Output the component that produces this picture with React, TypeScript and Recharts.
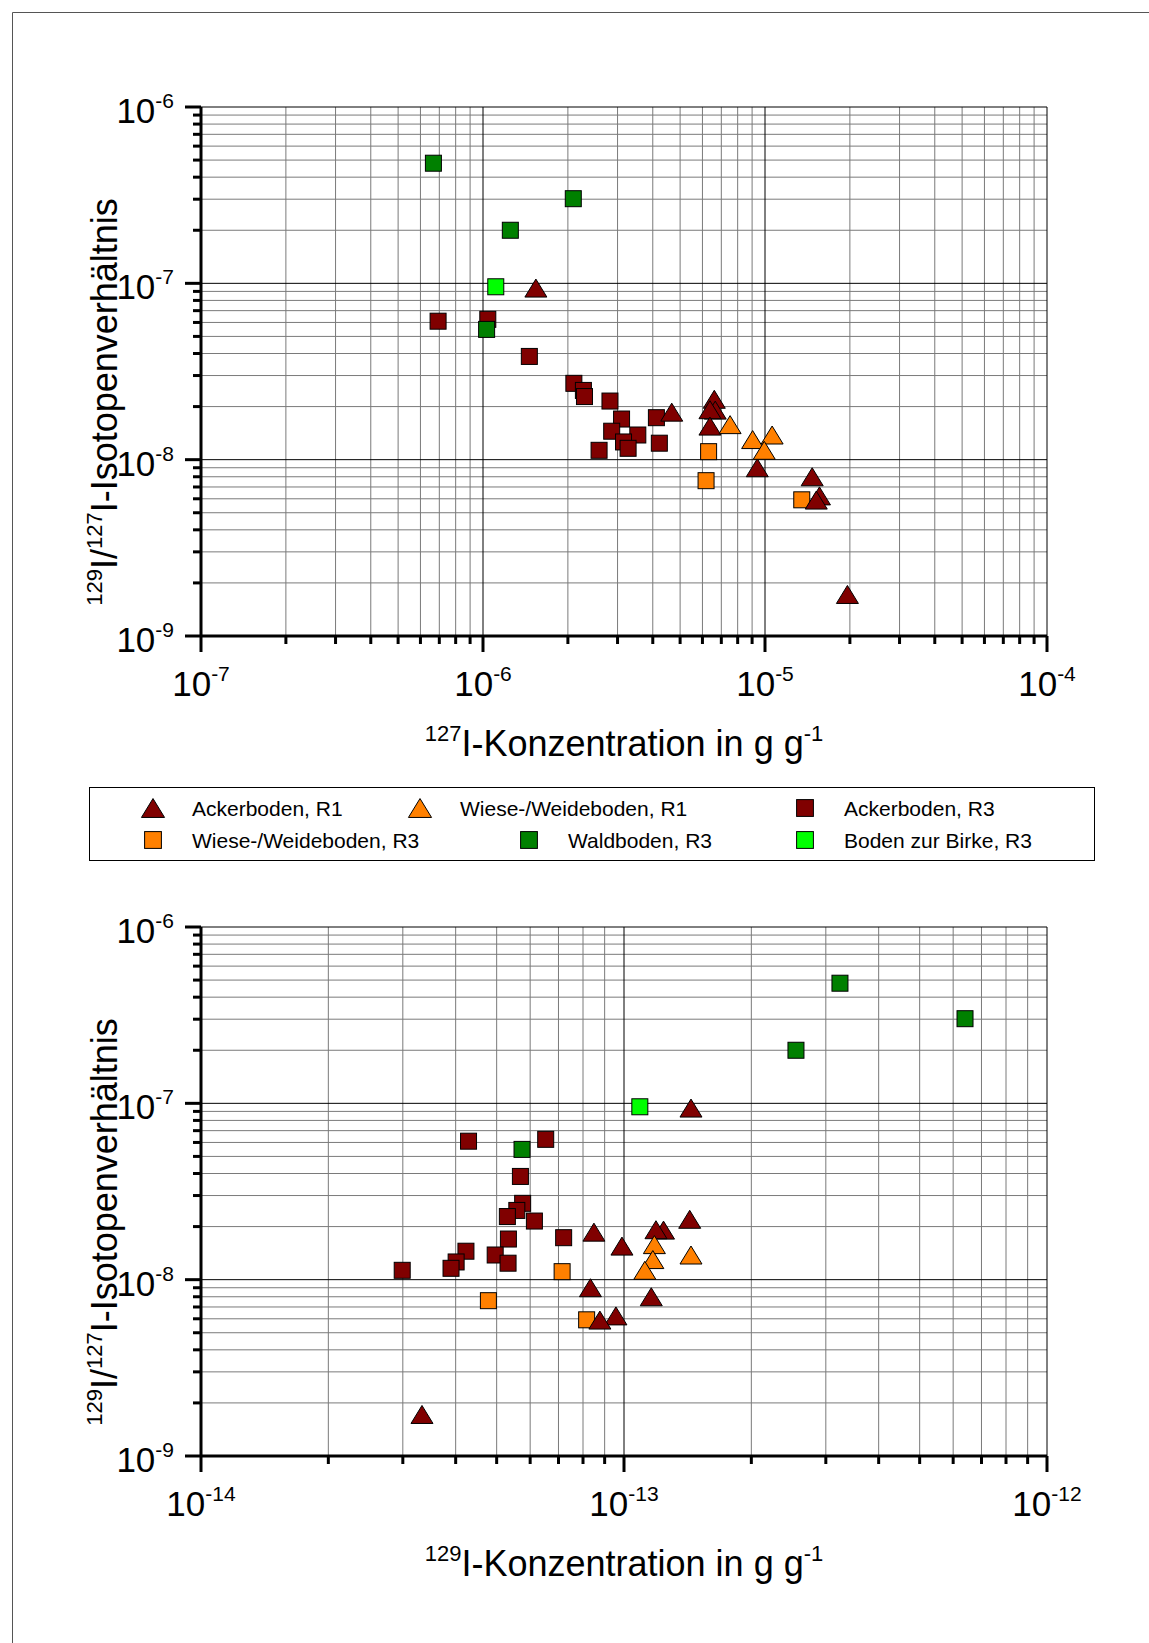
import React from 'react';
import { ScatterChart, Scatter, XAxis, YAxis, ReferenceLine } from 'recharts';

const FONT = '"Liberation Sans", Arial, sans-serif';

// decades shown on the log axes
const ratioDecades = [-9, -8, -7, -6];
const conc127Decades = [-7, -6, -5, -4];
const conc129Decades = [-14, -13, -12];

// per series: 129I/127I ratio, 127I concentration (g/g), 129I concentration (g/g)
const ackerR1Ratio = [9.4e-8, 1.86e-8, 2.2e-8, 1.91e-8, 1.92e-8, 1.55e-8, 9.0e-9, 8.0e-9, 6.23e-9, 5.9e-9, 1.72e-9];
const ackerR1Conc127 = [1.54e-6, 4.67e-6, 6.61e-6, 6.66e-6, 6.38e-6, 6.38e-6, 9.39e-6, 1.47e-5, 1.56e-5, 1.52e-5, 1.96e-5];
const ackerR1Conc129 = [1.44e-13, 8.49e-14, 1.43e-13, 1.24e-13, 1.19e-13, 9.89e-14, 8.33e-14, 1.16e-13, 9.57e-14, 8.77e-14, 3.33e-14];

const wieseR1Ratio = [1.58e-8, 1.3e-8, 1.38e-8, 1.13e-8];
const wieseR1Conc127 = [7.52e-6, 9.04e-6, 1.06e-5, 9.94e-6];
const wieseR1Conc129 = [1.18e-13, 1.17e-13, 1.44e-13, 1.12e-13];

const ackerR3Ratio = [6.1e-8, 6.25e-8, 3.85e-8, 2.71e-8, 2.47e-8, 2.28e-8, 2.15e-8, 1.7e-8, 1.45e-8, 1.38e-8, 1.26e-8, 1.16e-8, 1.13e-8, 1.73e-8, 1.24e-8];
const ackerR3Conc127 = [6.93e-7, 1.04e-6, 1.46e-6, 2.1e-6, 2.27e-6, 2.29e-6, 2.82e-6, 3.1e-6, 2.86e-6, 3.54e-6, 3.15e-6, 3.27e-6, 2.58e-6, 4.12e-6, 4.22e-6];
const ackerR3Conc129 = [4.29e-14, 6.53e-14, 5.69e-14, 5.76e-14, 5.58e-14, 5.3e-14, 6.14e-14, 5.33e-14, 4.23e-14, 4.96e-14, 4.01e-14, 3.9e-14, 2.99e-14, 7.2e-14, 5.32e-14];

const wieseR3Ratio = [1.11e-8, 7.6e-9, 5.92e-9];
const wieseR3Conc127 = [6.31e-6, 6.18e-6, 1.35e-5];
const wieseR3Conc129 = [7.14e-14, 4.78e-14, 8.16e-14];

const waldR3Ratio = [4.8e-7, 3.02e-7, 2.0e-7, 5.48e-8];
const waldR3Conc127 = [6.67e-7, 2.09e-6, 1.25e-6, 1.03e-6];
const waldR3Conc129 = [3.24e-13, 6.4e-13, 2.55e-13, 5.74e-14];

const birkeR3Ratio = [9.56e-8];
const birkeR3Conc127 = [1.11e-6];
const birkeR3Conc129 = [1.09e-13];

type Kind = 'tri' | 'sq';

// drawing order (back to front)
const series = [
  { name: 'Ackerboden, R3', kind: 'sq' as Kind, color: '#800000', ratio: ackerR3Ratio, c127: ackerR3Conc127, c129: ackerR3Conc129 },
  { name: 'Wiese-/Weideboden, R3', kind: 'sq' as Kind, color: '#ff8000', ratio: wieseR3Ratio, c127: wieseR3Conc127, c129: wieseR3Conc129 },
  { name: 'Ackerboden, R1', kind: 'tri' as Kind, color: '#800000', ratio: ackerR1Ratio, c127: ackerR1Conc127, c129: ackerR1Conc129 },
  { name: 'Wiese-/Weideboden, R1', kind: 'tri' as Kind, color: '#ff8000', ratio: wieseR1Ratio, c127: wieseR1Conc127, c129: wieseR1Conc129 },
  { name: 'Waldboden, R3', kind: 'sq' as Kind, color: '#008000', ratio: waldR3Ratio, c127: waldR3Conc127, c129: waldR3Conc129 },
  { name: 'Boden zur Birke, R3', kind: 'sq' as Kind, color: '#00ff00', ratio: birkeR3Ratio, c127: birkeR3Conc127, c129: birkeR3Conc129 },
];

const legendItems = [
  { name: 'Ackerboden, R1', kind: 'tri' as Kind, color: '#800000', mx: 153, tx: 192, row: 0 },
  { name: 'Wiese-/Weideboden, R1', kind: 'tri' as Kind, color: '#ff8000', mx: 420, tx: 460, row: 0 },
  { name: 'Ackerboden, R3', kind: 'sq' as Kind, color: '#800000', mx: 805, tx: 844, row: 0 },
  { name: 'Wiese-/Weideboden, R3', kind: 'sq' as Kind, color: '#ff8000', mx: 153, tx: 192, row: 1 },
  { name: 'Waldboden, R3', kind: 'sq' as Kind, color: '#008000', mx: 529, tx: 568, row: 1 },
  { name: 'Boden zur Birke, R3', kind: 'sq' as Kind, color: '#00ff00', mx: 805, tx: 844, row: 1 },
];

const logTicks = (decades: number[]) => {
  const out: number[] = [];
  decades.forEach((e, i) => {
    const steps = i === decades.length - 1 ? [1] : [1, 2, 3, 4, 5, 6, 7, 8, 9];
    steps.forEach((m) => out.push(m * Math.pow(10, e)));
  });
  return out;
};

const isMajor = (v: number) => {
  const e = Math.round(Math.log10(v));
  return Math.abs(v / Math.pow(10, e) - 1) < 1e-6;
};

function Marker({ cx, cy, kind, color, s = 1 }: any) {
  if (cx == null || cy == null) return null;
  if (kind === 'tri') {
    const w = 11 * s;
    const h = 9 * s;
    return (
      <polygon
        points={`${cx},${cy - h} ${cx + w},${cy + h} ${cx - w},${cy + h}`}
        fill={color}
        stroke="#000"
        strokeWidth={1}
      />
    );
  }
  const a = 8 * s;
  return <rect x={cx - a} y={cy - a} width={2 * a} height={2 * a} fill={color} stroke="#000" strokeWidth={1} />;
}

function XTick({ x, y, payload }: any) {
  const v = payload.value;
  const major = isMajor(v);
  const e = Math.round(Math.log10(v));
  return (
    <g>
      <line x1={x} y1={y} x2={x} y2={y + (major ? 16 : 8)} stroke="#000" strokeWidth={3} />
      {major && (
        <text x={x} y={y + 60} textAnchor="middle" fontSize={35} fontFamily={FONT} fill="#000">
          10
          <tspan dy={-15} fontSize={21}>
            {String(e)}
          </tspan>
        </text>
      )}
    </g>
  );
}

function YTick({ x, y, payload }: any) {
  const v = payload.value;
  const major = isMajor(v);
  const e = Math.round(Math.log10(v));
  return (
    <g>
      <line x1={x} y1={y} x2={x - (major ? 16 : 8)} y2={y} stroke="#000" strokeWidth={3} />
      {major && (
        <text x={x - 27} y={y + 16} textAnchor="end" fontSize={35} fontFamily={FONT} fill="#000">
          10
          <tspan dy={-15} fontSize={21}>
            {String(e)}
          </tspan>
        </text>
      )}
    </g>
  );
}

function LogScatter({ top, xDecades, xField }: { top: number; xDecades: number[]; xField: 'c127' | 'c129' }) {
  const xTicks = logTicks(xDecades);
  const yTicks = logTicks(ratioDecades);
  const xDomain = [xTicks[0], xTicks[xTicks.length - 1]];
  const yDomain = [yTicks[0], yTicks[yTicks.length - 1]];
  return (
    <div style={{ position: 'absolute', left: 0, top }}>
      <ScatterChart width={1149} height={720} margin={{ top: 107, right: 102, bottom: 4, left: 121 }}>
        <XAxis
          type="number"
          dataKey="x"
          scale="log"
          domain={xDomain}
          ticks={xTicks}
          interval={0}
          allowDataOverflow
          height={80}
          tickSize={0}
          tickMargin={0}
          tickLine={false}
          axisLine={{ stroke: '#000', strokeWidth: 3 }}
          tick={(p: any) => <XTick {...p} />}
        />
        <YAxis
          type="number"
          dataKey="y"
          scale="log"
          domain={yDomain}
          ticks={yTicks}
          interval={0}
          allowDataOverflow
          width={80}
          tickSize={0}
          tickMargin={0}
          tickLine={false}
          axisLine={{ stroke: '#000', strokeWidth: 3 }}
          tick={(p: any) => <YTick {...p} />}
        />
        {xTicks.filter((v) => !isMajor(v)).map((v) => (
          <ReferenceLine key={'xm' + v} x={v} stroke="#7a7a7a" strokeWidth={1} />
        ))}
        {yTicks.filter((v) => !isMajor(v)).map((v) => (
          <ReferenceLine key={'ym' + v} y={v} stroke="#7a7a7a" strokeWidth={1} />
        ))}
        {xTicks.filter(isMajor).map((v) => (
          <ReferenceLine key={'xM' + v} x={v} stroke="#000" strokeWidth={1} />
        ))}
        {yTicks.filter(isMajor).map((v) => (
          <ReferenceLine key={'yM' + v} y={v} stroke="#000" strokeWidth={1} />
        ))}
        {series.map((s) => (
          <Scatter
            key={s.name}
            name={s.name}
            data={s.ratio.map((r, i) => ({ x: s[xField][i], y: r }))}
            isAnimationActive={false}
            shape={(p: any) => <Marker cx={p.cx} cy={p.cy} kind={s.kind} color={s.color} />}
          />
        ))}
      </ScatterChart>
    </div>
  );
}

function YTitle({ cy }: { cy: number }) {
  return (
    <text transform={`translate(117,${cy}) rotate(-90)`} textAnchor="middle" fontSize={36} fontFamily={FONT} fill="#000">
      <tspan fontSize={22} dy={-15}>129</tspan>
      <tspan dy={15}>I/</tspan>
      <tspan fontSize={22} dy={-15}>127</tspan>
      <tspan dy={15}>I-Isotopenverhältnis</tspan>
    </text>
  );
}

function XTitle({ y, iso }: { y: number; iso: string }) {
  return (
    <text x={624} y={y} textAnchor="middle" fontSize={36} fontFamily={FONT} fill="#000">
      <tspan fontSize={22} dy={-15}>{iso}</tspan>
      <tspan dy={15}>I-Konzentration in g g</tspan>
      <tspan fontSize={22} dy={-15}>-1</tspan>
    </text>
  );
}

export default function App() {
  const rowY = [808, 840];
  return (
    <div style={{ position: 'absolute', left: 0, top: 0, width: 1149, height: 1643, overflow: 'hidden', background: '#fff' }}>
      <LogScatter top={0} xDecades={conc127Decades} xField="c127" />
      <LogScatter top={820} xDecades={conc129Decades} xField="c129" />
      <svg width={1149} height={1643} style={{ position: 'absolute', left: 0, top: 0, pointerEvents: 'none' }}>
        <path d="M12.5,1643 L12.5,12.5 L1149,12.5" fill="none" stroke="#555" strokeWidth={1} />
        <YTitle cy={402} />
        <YTitle cy={1222} />
        <XTitle y={756} iso="127" />
        <XTitle y={1576} iso="129" />
        <rect x={89.5} y={787.5} width={1005} height={73} fill="#fff" stroke="#000" strokeWidth={1} />
        {legendItems.map((it) => (
          <g key={it.name}>
            <Marker cx={it.mx} cy={rowY[it.row]} kind={it.kind} color={it.color} s={it.kind === 'tri' ? 1.05 : 1.05} />
            <text x={it.tx} y={rowY[it.row] + 8} fontSize={21} fontFamily={FONT} fill="#000">
              {it.name}
            </text>
          </g>
        ))}
      </svg>
    </div>
  );
}
